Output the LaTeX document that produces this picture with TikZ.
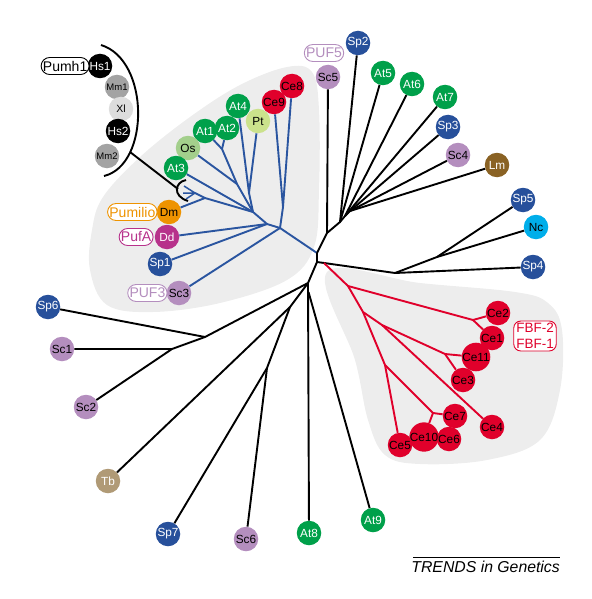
\documentclass[tikz,border=0pt]{standalone}
\usepackage{fontspec}
\setmainfont{Liberation Sans}
\usetikzlibrary{backgrounds}
\definecolor{cblue}{HTML}{27509B}
\definecolor{cgreen}{HTML}{00A04A}
\definecolor{clgreen}{HTML}{A3CF8C}
\definecolor{cpt}{HTML}{CBE28C}
\definecolor{cred}{HTML}{E0002B}
\definecolor{cpurp}{HTML}{B48EBE}
\definecolor{corange}{HTML}{EE9300}
\definecolor{cmag}{HTML}{B7328B}
\definecolor{cbrown}{HTML}{8A6224}
\definecolor{ctan}{HTML}{B09A76}
\definecolor{ccyan}{HTML}{00AEEA}
\definecolor{cgray}{HTML}{A3A3A3}
\definecolor{clgray}{HTML}{DDDDDD}
\definecolor{cblob}{HTML}{EDEDED}
\definecolor{tblue}{HTML}{2A55A0}
\tikzset{
  leaf/.style={circle, inner sep=0pt, minimum size=24.5pt, font=\fontsize{11.8}{12}\selectfont},
  wleaf/.style={leaf, text=white},
  spleaf/.style={wleaf, fill=cblue},
  atleaf/.style={wleaf, fill=cgreen},
  celeaf/.style={leaf, fill=cred},
  bigce/.style={celeaf, minimum size=27.5pt},
  scleaf/.style={leaf, fill=cpurp},
  hsleaf/.style={wleaf, fill=black},
  mmleaf/.style={leaf, fill=cgray, font=\fontsize{9.5}{10}\selectfont},
  tag/.style={draw, fill=white, rounded corners=8.5pt, minimum height=17pt, inner sep=1.8pt, line width=0.9pt, font=\fontsize{14}{14}\selectfont},
  bl/.style={draw=tblue, line width=1.9pt},
  rd/.style={draw=cred, line width=1.9pt},
  bk/.style={draw=black, line width=1.9pt},
}
\begin{document}
\begin{tikzpicture}[x=1pt, y=-1pt]
\useasboundingbox (0,0) rectangle (591,599);
% gray blobs
\fill[cblob] plot[smooth cycle, tension=0.6] coordinates {(103,197) (140,157) (190,117) (240,85) (287,67) (312,72) (319,110) (319,190) (314,247) (287,280) (220,303) (153,312) (107,305) (90,270) (92,230)};
\fill[cblob] plot[smooth cycle, tension=0.6] coordinates {(327,272) (420,283) (515,292) (548,303) (562,330) (560,390) (540,440) (487,460) (420,464) (385,455) (368,420) (355,360)};

% ---- leaves ----
\node[hsleaf] (Hs1) at (100,66) {Hs1};
\node[mmleaf] (Mm1) at (117,87) {Mm1};
\node[leaf, fill=clgray, font=\fontsize{10.5}{11}\selectfont] (Xl) at (121,109) {Xl};
\node[hsleaf] (Hs2) at (118,131) {Hs2};
\node[mmleaf] (Mm2) at (107,156) {Mm2};
\node[tag, draw=black, anchor=east] (Pumh1) at ([xshift=2pt]Hs1.west) {Pumh1};

\node[atleaf] (At4) at (238,106) {At4};
\node[atleaf] (At1) at (205,131) {At1};
\node[atleaf] (At2) at (227,128) {At2};
\node[leaf, fill=clgreen] (Os) at (188,148) {Os};
\node[atleaf] (At3) at (176,168) {At3};
\node[leaf, fill=cpt] (Pt) at (258,121) {Pt};
\node[celeaf] (Ce9) at (274,102) {Ce9};
\node[celeaf] (Ce8) at (292,86) {Ce8};
\node[leaf, fill=corange] (Dm) at (169,212) {Dm};
\node[wleaf, fill=cmag] (Dd) at (167,237) {Dd};
\node[spleaf] (Sp1) at (160,264) {Sp1};
\node[scleaf] (Sc3) at (179,293) {Sc3};
\node[tag, draw=corange, text=corange, anchor=east] (Pumilio) at ([xshift=1pt]Dm.west) {Pumilio};
\node[tag, draw=cmag, text=cmag, anchor=east] (PufA) at ([xshift=-1pt]Dd.west) {PufA};
\node[tag, draw=cpurp, text=cpurp, anchor=east] (PUF3) at ([xshift=1pt]Sc3.west) {PUF3};

\node[scleaf] (Sc5) at (328,77) {Sc5};
\node[tag, draw=cpurp, text=cpurp] (PUF5) at (324,53) {PUF5};
\node[spleaf] (Sp2) at (358,43) {Sp2};
\node[atleaf] (At5) at (383,73) {At5};
\node[atleaf] (At6) at (412,84) {At6};
\node[atleaf] (At7) at (445,97) {At7};
\node[spleaf] (Sp3) at (448,127) {Sp3};
\node[scleaf] (Sc4) at (458,155) {Sc4};
\node[wleaf, fill=cbrown] (Lm) at (497,165) {Lm};
\node[spleaf] (Sp5) at (523,200) {Sp5};
\node[leaf, fill=ccyan] (Nc) at (536,227) {Nc};
\node[spleaf] (Sp4) at (533,267) {Sp4};

\node[spleaf] (Sp6) at (48,307) {Sp6};
\node[scleaf] (Sc1) at (62,349) {Sc1};
\node[scleaf] (Sc2) at (86,407) {Sc2};
\node[wleaf, fill=ctan] (Tb) at (108,481) {Tb};
\node[spleaf] (Sp7) at (168,534) {Sp7};
\node[scleaf] (Sc6) at (246,539) {Sc6};
\node[atleaf] (At8) at (309,533) {At8};
\node[atleaf] (At9) at (373,520) {At9};

\node[celeaf] (Ce2) at (498,313) {Ce2};
\node[celeaf] (Ce1) at (492,338) {Ce1};
\node[bigce] (Ce11) at (476,357) {Ce11};
\node[celeaf] (Ce3) at (463,380) {Ce3};
\node[celeaf] (Ce4) at (492,427) {Ce4};
\node[celeaf] (Ce7) at (455,416) {Ce7};
\node[celeaf] (Ce6) at (449,439) {Ce6};
\node[bigce] (Ce10) at (424,437) {Ce10};
\node[celeaf] (Ce5) at (400,445) {Ce5};
\node[draw=cred, text=cred, fill=white, rounded corners=7pt, line width=0.9pt, align=center, inner sep=2.5pt, font=\fontsize{13.5}{15.5}\selectfont] (FBF) at (535,336) {FBF-2\\FBF-1};

% ---- junctions ----
\coordinate (H) at (317,253);
\coordinate (H2) at (317,262);
\coordinate (J1) at (280,228);
\coordinate (J2) at (283,207);
\coordinate (J3) at (267,224);
\coordinate (J4) at (253,212);
\coordinate (J5) at (249,193);
\coordinate (J6) at (237,184);
\coordinate (F1) at (222,149);
\coordinate (J8) at (205,198);
\coordinate (J9) at (195,193);
\coordinate (Ha) at (184,186);
\coordinate (Hb) at (183,193);
\coordinate (Hc) at (186,199);

\coordinate (K1) at (327,233);
\coordinate (K2) at (340,222);
\coordinate (K3) at (345,216);
\coordinate (K4) at (350,211);
\coordinate (K5) at (395,273);
\coordinate (K6) at (437,257);
\coordinate (L1) at (308,283);
\coordinate (L2) at (205,337);
\coordinate (L3) at (172,349);
\coordinate (L4) at (290,307);
\coordinate (L5) at (267,368);
\coordinate (L6) at (308.5,292);

\coordinate (R0) at (324,263);
\coordinate (R1) at (348,286);
\coordinate (F2) at (473,320);
\coordinate (R2) at (363,312);
\coordinate (R3) at (382,325);
\coordinate (F3) at (445,354);
\coordinate (R4) at (385,365);
\coordinate (F4) at (433,413);

% ---- blue clade ----
\draw[bl] (H) -- (J1) -- (J2) -- (Ce9);
\draw[bl] (J2) -- (Ce8);
\draw[bl] (J1) -- (J3) -- (J4);
\draw[bl] (J3) -- (Dd);
\draw[bl] (J3) -- (Sp1);
\draw[bl] (J1) -- (Sc3);
\draw[bl] (J4) -- (J5) -- (At4);
\draw[bl] (J5) -- (Pt);
\draw[bl] (J4) -- (J6) -- (F1) -- (At1);
\draw[bl] (F1) -- (At2);
\draw[bl] (J6) -- (Os);
\draw[bl] (J4) -- (At3);
\draw[bl] (J4) -- (J8) -- (Dm);
\draw[bl] (J8) -- (J9);
\draw[bl, line width=1.5pt] (Ha) -- (J9) -- (Hb);
\draw[bl, line width=1.5pt] (Hc) -- (J9);

% ---- vertebrate bracket ----
\draw[black, line width=1.9pt] (101,45) .. controls (150,60) and (150,165) .. (104,176);
\coordinate (Bk) at (130,152);
\coordinate (Sb) at (178,189);
\draw[black, line width=1.9pt] (Bk) -- (Sb);
\draw[black, line width=1.9pt] (186,180) .. controls (175,182) and (172,196) .. (188,201);

% ---- black tree ----
\draw[bk] (H) -- (H2);
\draw[bk] (H) -- (K1) -- (Sc5);
\draw[bk] (K1) -- (K2) -- (Sp2);
\draw[bk] (K2) -- (At5);
\draw[bk] (K2) -- (K3) -- (At6);
\draw[bk] (K3) -- (At7);
\draw[bk] (K3) -- (K4) -- (Sp3);
\draw[bk] (K4) -- (Sc4);
\draw[bk] (K4) -- (Lm);
\draw[bk] (H2) -- (K5) -- (Sp4);
\draw[bk] (K5) -- (K6) -- (Sp5);
\draw[bk] (K6) -- (Nc);
\draw[bk] (H2) -- (L1) -- (L2) -- (Sp6);
\draw[bk] (L2) -- (L3) -- (Sc1);
\draw[bk] (L3) -- (Sc2);
\draw[bk] (L1) -- (L4) -- (Tb);
\draw[bk] (L4) -- (L5) -- (Sp7);
\draw[bk] (L5) -- (Sc6);
\draw[bk] (L1) -- (At8);
\draw[bk] (L6) -- (At9);

% ---- red clade ----
\draw[rd] (R0) -- (R1) -- (F2) -- (Ce2);
\draw[rd] (F2) -- (Ce1);
\draw[rd] (R1) -- (R2) -- (R3) -- (F3) -- (Ce11);
\draw[rd] (F3) -- (Ce3);
\draw[rd] (R3) -- (Ce4);
\draw[rd] (R2) -- (R4) -- (Ce5);
\draw[rd] (R4) -- (F4) -- (Ce7);
\draw[rd] (F4) -- (Ce10);

% ---- footer ----
\coordinate (Fa) at (413,557);
\coordinate (Fb) at (560,557);
\draw[line width=0.8pt] (Fa) -- (Fb);
\node[anchor=north east, inner sep=0pt, font=\itshape\fontsize{15.8}{16}\selectfont] (Trends) at (560,561) {TRENDS in Genetics};
\end{tikzpicture}
\end{document}
